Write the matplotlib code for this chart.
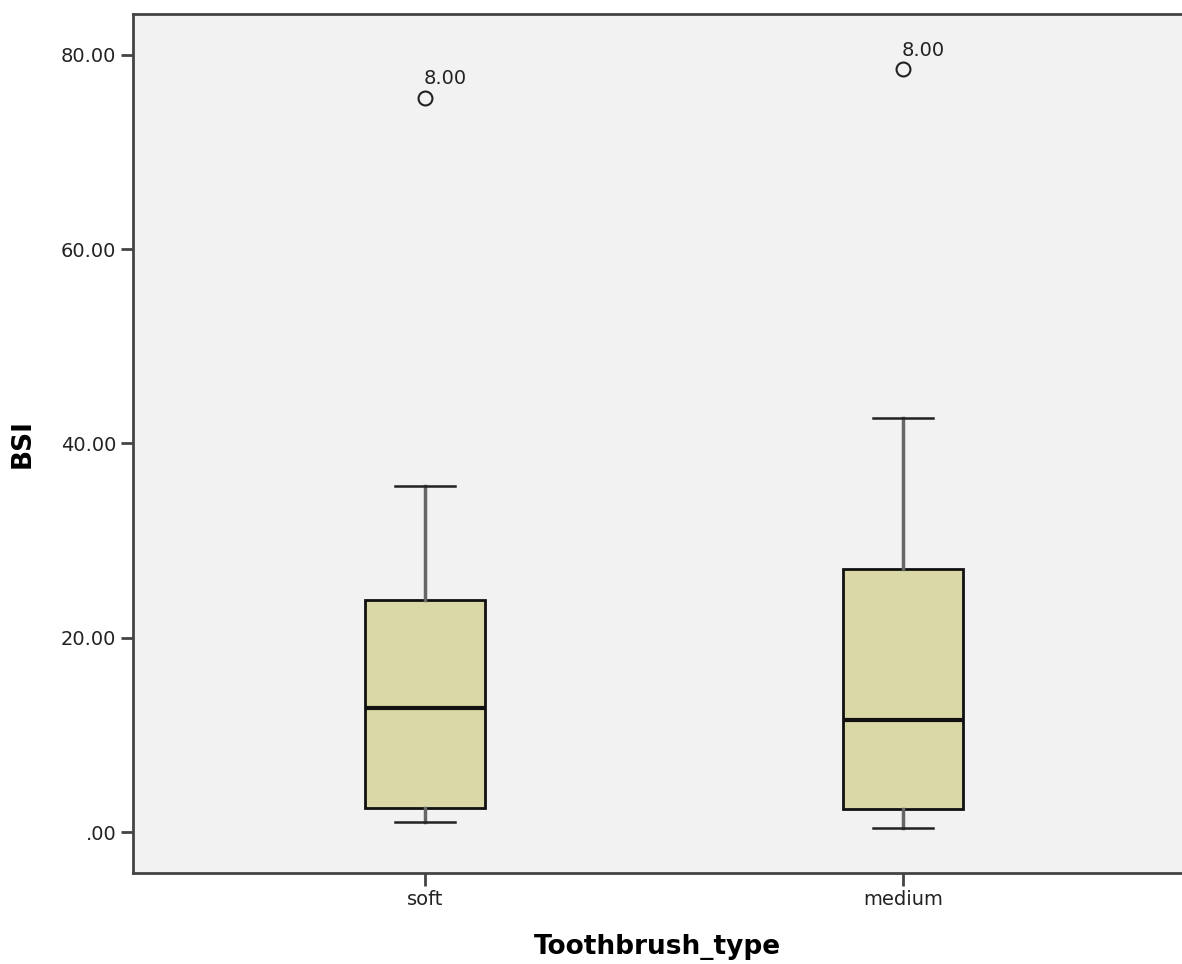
import matplotlib
matplotlib.use("Agg")
import matplotlib.pyplot as plt

# values
categories = ["soft", "medium"]
whisker_low = [1.05, 0.38]
q1 = [2.45, 2.4]
medians = [12.8, 11.5]
q3 = [23.9, 27.05]
whisker_high = [35.6, 42.6]
outliers = [[75.6], [78.5]]
outlier_labels = [["8.00"], ["8.00"]]

yticks = [0, 20, 40, 60, 80]
ytick_labels = [".00", "20.00", "40.00", "60.00", "80.00"]

stats = []
for i, name in enumerate(categories):
    stats.append({
        "label": name,
        "whislo": whisker_low[i],
        "q1": q1[i],
        "med": medians[i],
        "q3": q3[i],
        "whishi": whisker_high[i],
        "fliers": outliers[i],
    })

fig = plt.figure(figsize=(11.82, 9.64), dpi=100)
ax = fig.add_axes([0.1125, 0.0939, 0.8875, 0.8919])
ax.set_facecolor("#f2f2f2")

positions = list(range(1, len(categories) + 1))
ax.bxp(stats, positions=positions, widths=0.25, capwidths=0.125,
       patch_artist=True,
       boxprops=dict(facecolor="#dad8a7", edgecolor="#111111", linewidth=2),
       medianprops=dict(color="#111111", linewidth=3),
       whiskerprops=dict(color="#666666", linewidth=2.5),
       capprops=dict(color="#222222", linewidth=1.8),
       flierprops=dict(marker="o", markersize=10, markerfacecolor="none",
                       markeredgecolor="#222222", markeredgewidth=1.5))

# outlier case labels
for pos, vals, labs in zip(positions, outliers, outlier_labels):
    for v, lab in zip(vals, labs):
        ax.annotate(lab, (pos, v), xytext=(-1, 10), textcoords="offset points",
                    ha="left", va="baseline", fontsize=14, color="#222222")

ax.set_xlim(0.389, 2.584)
ax.set_ylim(-4.27, 84.24)
ax.set_yticks(yticks)
ax.set_yticklabels(ytick_labels)
ax.set_xticks(positions)
ax.set_xticklabels(categories)

for side in ["left", "top", "bottom"]:
    ax.spines[side].set_color("#444444")
    ax.spines[side].set_linewidth(2)
ax.spines["right"].set_visible(False)

ax.tick_params(axis="both", length=9, width=2, color="#444444",
               labelsize=14, labelcolor="#222222", pad=3)

ax.set_xlabel("Toothbrush_type", fontsize=19, fontweight="bold", labelpad=18)
ax.set_ylabel("BSI", fontsize=19, fontweight="bold", labelpad=18)

fig.savefig("out.png", dpi=100, facecolor="white")
